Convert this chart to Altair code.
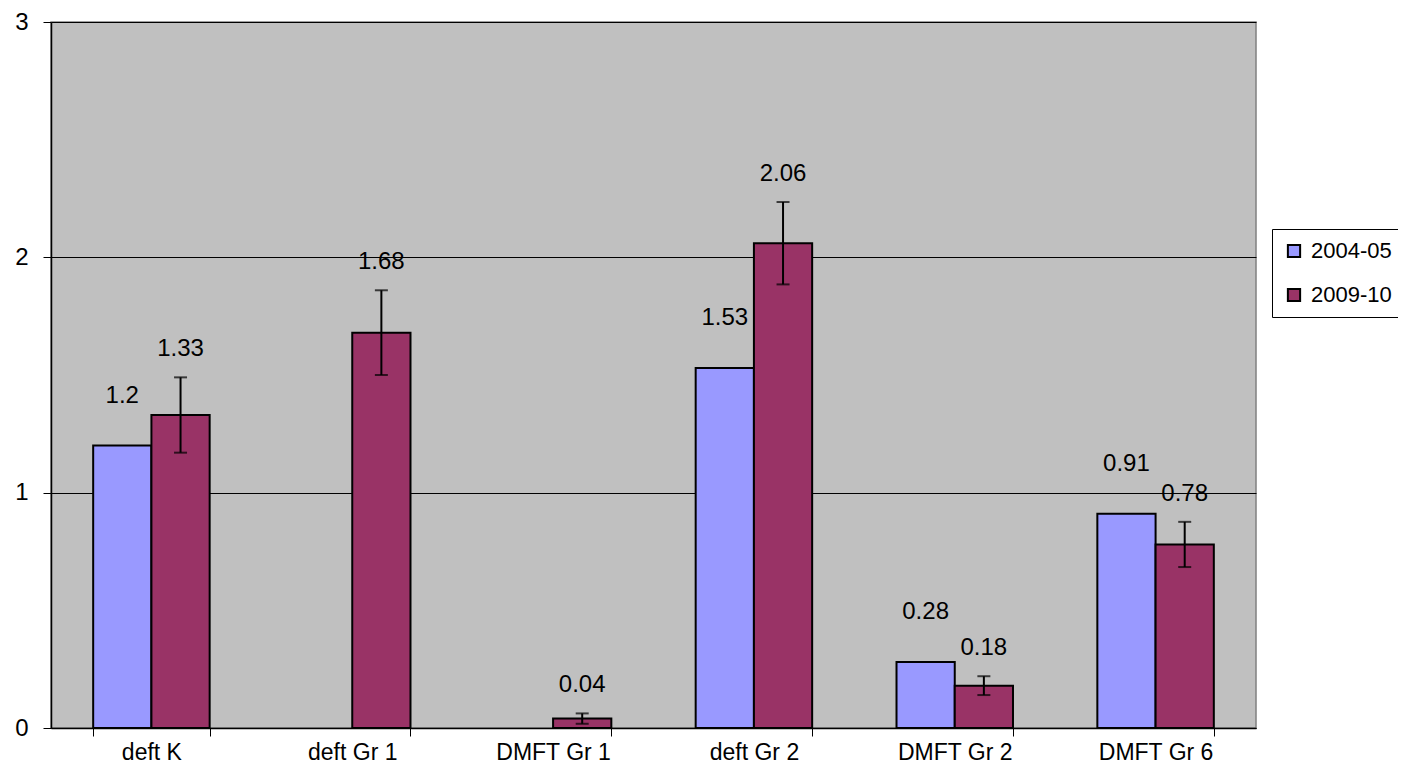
import altair as alt
import pandas as pd

categories = ["deft K", "deft Gr 1", "DMFT Gr 1", "deft Gr 2", "DMFT Gr 2", "DMFT Gr 6"]
series_names = ["2004-05", "2009-10"]
values_2004 = [1.2, None, None, 1.53, 0.28, 0.91]
values_2009 = [1.33, 1.68, 0.04, 2.06, 0.18, 0.78]
err_2009 = [0.16, 0.18, 0.022, 0.175, 0.04, 0.096]
y_ticks = [0, 1, 2, 3]
colors = ["#9999FF", "#993366"]

rows = []
for c, v in zip(categories, values_2004):
    if v is not None:
        rows.append({"category": c, "series": "2004-05", "value": v, "err": 0.0,
                     "lo": v, "hi": v, "label": f"{v:g}"})
for c, v, e in zip(categories, values_2009, err_2009):
    rows.append({"category": c, "series": "2009-10", "value": v, "err": e,
                 "lo": v - e, "hi": v + e, "label": f"{v:g}"})
df = pd.DataFrame(rows)

FONT = "Liberation Sans"
FS = 24

x = alt.X("category:N", sort=categories, title=None,
          scale=alt.Scale(paddingInner=0.42, paddingOuter=0.21),
          axis=alt.Axis(labelAngle=0, tickBand="extent", tickSize=8, tickColor="black",
                        domainColor="black", domainWidth=1.5, labelFontSize=23,
                        labelColor="black", labelPadding=5, labelFont=FONT, grid=False))
xo = alt.XOffset("series:N", scale=alt.Scale(domain=series_names, paddingInner=0, paddingOuter=0))

base = alt.Chart(df)

bars = base.mark_bar(stroke="black", strokeWidth=2).encode(
    x=x, xOffset=xo,
    y=alt.Y("value:Q", title=None,
            scale=alt.Scale(domain=[0, 3], nice=False),
            axis=alt.Axis(values=y_ticks, grid=True, gridColor="black", gridWidth=1,
                          tickSize=8, tickColor="black", domainColor="black", domainWidth=1.5,
                          labelFontSize=FS, labelColor="black", labelPadding=15,
                          labelFont=FONT, format="d")),
    color=alt.Color("series:N", scale=alt.Scale(domain=series_names, range=colors),
                    legend=alt.Legend(title=None, orient="none", legendX=1221, legendY=207,
                                      padding=11, strokeColor="black", fillColor="white",
                                      symbolType="square", symbolSize=150,
                                      symbolStrokeColor="black", symbolStrokeWidth=2,
                                      labelFontSize=22, labelFont=FONT, labelColor="black",
                                      labelOffset=6, rowPadding=22, labelLimit=300)),
)

eb = base.transform_filter("datum.err > 0")
rules = eb.mark_rule(color="black", strokeWidth=2).encode(
    x=x, xOffset=xo, y="lo:Q", y2="hi:Q")
caps_hi = eb.mark_tick(color="black", thickness=2, size=13).encode(
    x=x, xOffset=xo, y="hi:Q")
caps_lo = eb.mark_tick(color="black", thickness=2, size=13).encode(
    x=x, xOffset=xo, y="lo:Q")

lab_a = base.transform_filter("datum.series == '2004-05'").mark_text(
    fontSize=FS, font=FONT, color="black", baseline="middle", dy=-50).encode(
    x=x, xOffset=xo, y="hi:Q", text="label:N")
lab_b = base.transform_filter("datum.series == '2009-10'").mark_text(
    fontSize=FS, font=FONT, color="black", baseline="middle", dy=-28).encode(
    x=x, xOffset=xo, y="hi:Q", text="label:N")

chart = alt.layer(bars, rules, caps_hi, caps_lo, lab_a, lab_b).properties(
    width=1205, height=706,
    padding={"left": 43, "top": 14, "right": 142, "bottom": 38},
    autosize=alt.AutoSizeParams(type="none"),
    background="white",
).configure_view(
    fill="#C0C0C0", stroke="#808080", strokeWidth=1.5
)

chart.save("out.html", embed_options={"renderer": "svg", "actions": False})
